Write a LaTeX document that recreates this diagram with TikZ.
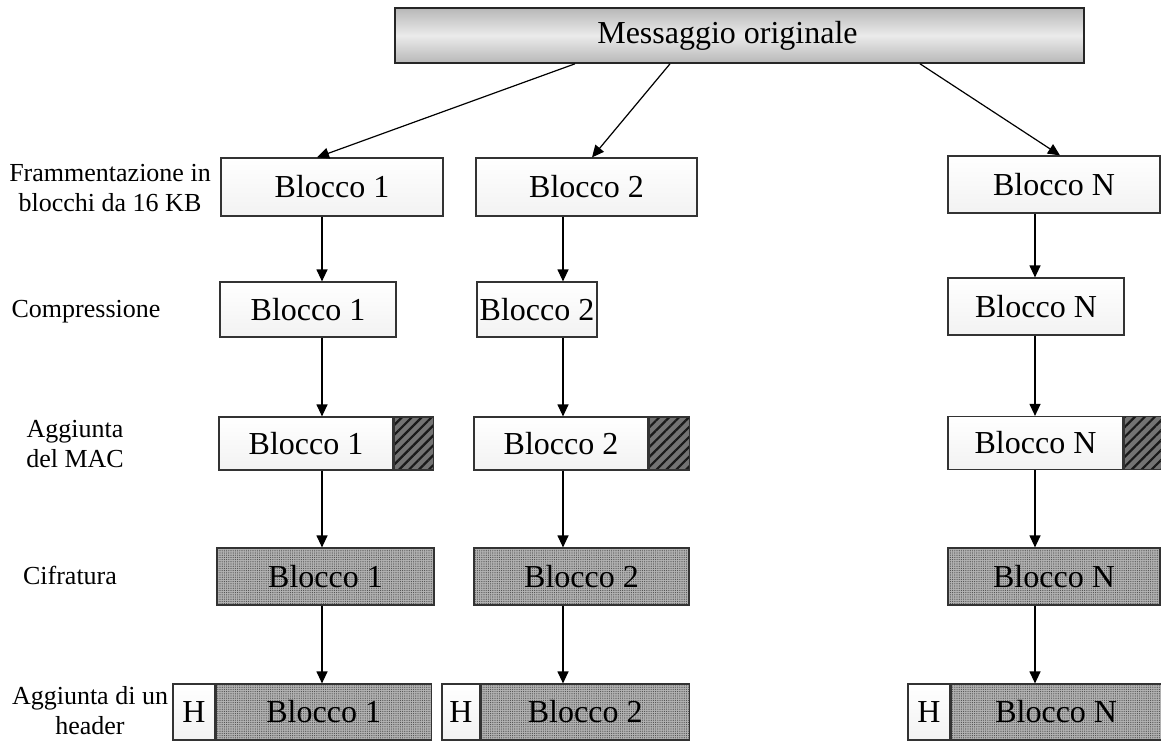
\documentclass[tikz,border=0pt]{standalone}
\usepackage{fontspec}
\setmainfont{Liberation Serif}
\usetikzlibrary{positioning,arrows.meta,patterns.meta}

\begin{document}
\begin{tikzpicture}[
  x=1pt, y=-1pt,
  topbox/.style={draw=black!85, line width=1.6pt, inner sep=0pt, minimum height=55pt,
                 font=\fontsize{32}{36}\selectfont,
                 top color=black!28, bottom color=black!28, middle color=black!8},
  blk/.style={draw=black!80, line width=1.2pt, inner sep=0pt, minimum height=56pt,
              font=\fontsize{32}{36}\selectfont, top color=white, bottom color=black!5},
  mac/.style={draw=black!80, line width=1.2pt, inner sep=0pt, minimum height=53pt,
              preaction={fill=black!55},
              pattern={Lines[angle=45,distance=7pt,line width=2.2pt]}, pattern color=black!90},
  cif/.style={draw=black!80, line width=1.2pt, inner sep=0pt, minimum height=56pt,
              font=\fontsize{32}{36}\selectfont, preaction={fill=black!30},
              pattern={Dots[distance=2.2pt,radius=0.6pt]}, pattern color=black!70},
  phase/.style={font=\fontsize{26}{30}\selectfont, align=center},
  flow/.style={-{Triangle[length=12pt,width=11pt]}, line width=1.2pt},
]
  \useasboundingbox (0,0) rectangle (1161,740);

  % original message
  \node[topbox, minimum width=689pt] (msg) at (739.5,35.5)
    {\hspace*{-24pt}Messaggio originale};

  % fragments
  \node[blk, minimum width=222pt, minimum height=58pt] (f1) at (332,187) {Blocco 1};
  \node[blk, minimum width=221pt, minimum height=58pt] (f2) at (586.5,187) {Blocco 2};
  \node[blk, minimum width=212pt, minimum height=57pt] (fN) at (1054,184.5) {Blocco N};

  % compressed
  \node[blk, minimum width=176pt, minimum height=55pt] (c1) at (308,309.5) {Blocco 1};
  \node[blk, minimum width=120pt, minimum height=55pt] (c2) at (537,309.5) {Blocco 2};
  \node[blk, minimum width=176pt, minimum height=57pt] (cN) at (1036,306.5) {Blocco N};

  % with MAC
  \node[blk, minimum width=174pt, minimum height=53pt] (m1) at (306,443.5) {Blocco 1};
  \node[mac, minimum width=39pt, right=0pt of m1] (t1) {};
  \node[blk, minimum width=174pt, minimum height=53pt] (m2) at (561,443.5) {Blocco 2};
  \node[mac, minimum width=40pt, right=0pt of m2] (t2) {};
  \node[blk, minimum width=175pt, minimum height=53pt] (mN) at (1035.5,443) {Blocco N};
  \node[mac, minimum width=37pt, right=0pt of mN] (tN) {};

  % encrypted
  \node[cif, minimum width=217pt, minimum height=57pt] (e1) at (325.5,576.5) {Blocco 1};
  \node[cif, minimum width=215pt, minimum height=57pt] (e2) at (581.5,576.5) {Blocco 2};
  \node[cif, minimum width=212pt, minimum height=57pt] (eN) at (1054,576.5) {Blocco N};

  % with header
  \node[blk, fill=white, minimum width=42pt] (h1) at (194,712) {H};
  \node[cif, minimum width=215pt, right=0pt of h1] (p1) {Blocco 1};
  \node[blk, fill=white, minimum width=38pt] (h2) at (461,712) {H};
  \node[cif, minimum width=208pt, right=0pt of h2] (p2) {Blocco 2};
  \node[blk, fill=white, minimum width=42pt] (hN) at (929,712) {H};
  \node[cif, minimum width=210pt, right=0pt of hN] (pN) {Blocco N};

  % phase labels
  \node[phase] (lfrag) at (110,188) {Frammentazione in\\blocchi da 16 KB};
  \node[phase] (lcomp) at (86,312) {Compressione};
  \node[phase] (lmac) at (75,444) {Aggiunta\\del MAC};
  \node[phase] (lcif) at (70,575) {Cifratura};
  \node[phase] (lhdr) at (90,711) {Aggiunta di un\\header};

  % arrows
  \draw[flow] ([xshift=-164.5pt]msg.south) -- ([xshift=-15pt]f1.north);
  \draw[flow] ([xshift=-69.5pt]msg.south) -- ([xshift=5.5pt]f2.north);
  \draw[flow] ([xshift=180.5pt]msg.south) -- ([xshift=6pt]fN.north);

  \coordinate (k1) at (322,0);
  \coordinate (k2) at (563,0);
  \coordinate (kN) at (1035,0);
  \foreach \col/\a/\b in {k1/f1/c1, k1/c1/m1, k1/m1/e1, k1/e1/p1,
                          k2/f2/c2, k2/c2/m2, k2/m2/e2, k2/e2/p2,
                          kN/fN/cN, kN/cN/mN, kN/mN/eN, kN/eN/pN}
    \draw[flow] (\a.south -| \col) -- (\b.north -| \col);
\end{tikzpicture}
\end{document}
